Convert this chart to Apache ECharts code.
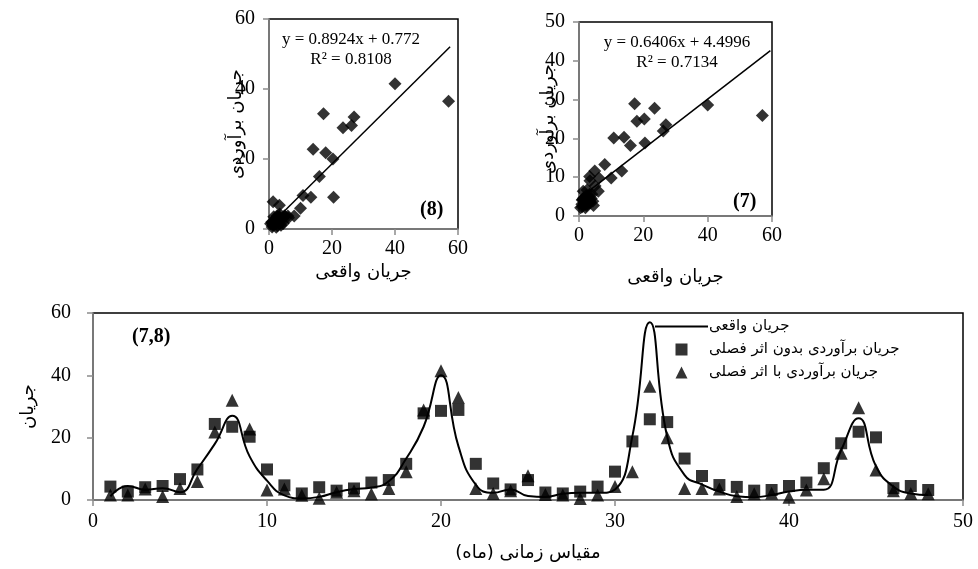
<!DOCTYPE html>
<html>
<head>
<meta charset="utf-8">
<script src="https://cdn.jsdelivr.net/npm/echarts@6/dist/echarts.min.js"></script>
<style>
  html, body { margin: 0; background: #fff; }
  #chart { width: 978px; height: 569px; }
</style>
</head>
<body>
<div id="chart"></div>
<script>
// monthly flow, 48 months
const months = [1, 2, 3, 4, 5, 6, 7, 8, 9, 10, 11, 12, 13, 14, 15, 16, 17, 18, 19, 20, 21, 22, 23, 24,
  25, 26, 27, 28, 29, 30, 31, 32, 33, 34, 35, 36, 37, 38, 39, 40, 41, 42, 43, 44, 45, 46, 47, 48];
const actualFlow = [1.2, 4.5, 3.3, 3.8, 2.5, 10, 18, 27, 14, 6.2, 1.5, 0.5, 1, 2.5, 3.5, 4, 6, 13.3, 23.5, 40,
  17.3, 4.9, 2.3, 3.4, 1.3, 1, 2, 2.3, 2.3, 3.4, 20.5, 57, 20.3, 8, 5, 2.7, 1.2, 0.9, 1.6, 2.7, 3.3, 3.3,
  16, 26.2, 10.8, 4.3, 2.1, 1.6];
const noSeasonFlow = [4.3, 2.7, 4.1, 4.5, 6.7, 9.8, 24.4, 23.5, 20.3, 9.8, 4.7, 2.1, 4.1, 3, 3.7, 5.6, 6.4, 11.6,
  27.8, 28.6, 28.9, 11.6, 5.3, 3.4, 6.4, 2.4, 2.1, 2.7, 4.3, 9.1, 18.8, 25.9, 25, 13.3, 7.7, 4.8, 4.2, 3,
  3.2, 4.5, 5.6, 10.2, 18.2, 21.9, 20.1, 3.8, 4.5, 3.2];
const seasonFlow = [1.6, 1.6, 3.5, 1.1, 3.7, 5.9, 21.8, 32, 22.8, 3.2, 3.5, 1.5, 0.6, 2.5, 3, 1.9, 3.7, 9.1,
  28.9, 41.5, 32.9, 3.7, 2.1, 3, 7.8, 1.8, 1.6, 0.5, 1.6, 4.3, 9.1, 36.5, 20, 3.7, 3.7, 3.5, 1.1, 2, 2.2,
  0.9, 3.2, 6.8, 15, 29.6, 9.6, 3, 2.1, 2];

// trend lines: [panel (8), panel (7)]
const fitSlope = [0.8924, 0.6406];
const fitIntercept = [0.772, 4.4996];
const fitFrom = [0.5, 0.5];
const fitTo = [57.5, 59.5];
const fitText = ['y = 0.8924x + 0.772\nR² = 0.8108', 'y = 0.6406x + 4.4996\nR² = 0.7134'];

const xTicks = [0, 10, 20, 30, 40, 50];

const NAME_LINE = 'جریان واقعی';
const NAME_SQ = 'جریان برآوردی بدون اثر فصلی';
const NAME_TRI = 'جریان برآوردی با اثر فصلی';
const FA = '"DejaVu Sans", sans-serif';
const SERIF = '"Liberation Serif", "Times New Roman", serif';

const pairs = (xs, ys) => xs.map((x, i) => [x, ys[i]]);
const fitLine = (k) => [fitFrom[k], fitTo[k]].map(x => [x, fitSlope[k] * x + fitIntercept[k]]);

const grayAxis = { lineStyle: { color: '#8c8c8c', width: 1.5 } };
const tick = { show: true, inside: false, length: 6, lineStyle: { color: '#8c8c8c', width: 1.5 } };
const lbl = (margin) => ({ color: '#000', fontFamily: SERIF, fontSize: 20, margin });

function valueAxis(extra) {
  return Object.assign({
    type: 'value',
    axisLine: Object.assign({ show: true, onZero: false }, grayAxis),
    axisTick: tick,
    splitLine: { show: false },
    nameMoveOverlap: false,
    nameTextStyle: { color: '#000', fontFamily: FA, fontSize: 18 },
  }, extra);
}

const chart = echarts.init(document.getElementById('chart'));
chart.setOption({
  animation: false,
  backgroundColor: '#fff',
  grid: [
    { left: 93, top: 313, width: 870, height: 187, show: true, borderColor: '#000', borderWidth: 1.5 },
    { left: 269, top: 19, width: 189, height: 210, show: true, borderColor: '#000', borderWidth: 1.5 },
    { left: 579, top: 22, width: 193, height: 194, show: true, borderColor: '#000', borderWidth: 1.5 },
  ],
  xAxis: [
    valueAxis({ gridIndex: 0, min: xTicks[0], max: xTicks[xTicks.length - 1], interval: 10, axisLabel: lbl(12),
      name: 'مقیاس زمانی (ماه)\u200F', nameLocation: 'middle', nameGap: 44 }),
    valueAxis({ gridIndex: 1, min: 0, max: 60, interval: 20, axisLabel: lbl(10),
      name: 'جریان واقعی', nameLocation: 'middle', nameGap: 34 }),
    valueAxis({ gridIndex: 2, min: 0, max: 60, interval: 20, axisLabel: lbl(10),
      name: 'جریان واقعی', nameLocation: 'middle', nameGap: 52 }),
  ],
  yAxis: [
    valueAxis({ gridIndex: 0, min: 0, max: 60, interval: 20, axisLabel: lbl(22),
      name: 'جریان', nameLocation: 'middle', nameRotate: 90, nameGap: 56 }),
    valueAxis({ gridIndex: 1, min: 0, max: 60, interval: 20, axisLabel: lbl(14),
      name: 'جریان برآوردی', nameLocation: 'middle', nameRotate: 90, nameGap: 24 }),
    valueAxis({ gridIndex: 2, min: 0, max: 50, interval: 10, axisLabel: lbl(14),
      name: 'جریان برآوردی', nameLocation: 'middle', nameRotate: 90, nameGap: 22 }),
  ],
  legend: {
    orient: 'vertical',
    left: 650,
    top: 314,
    itemWidth: 53,
    itemHeight: 12,
    itemGap: 8,
    textStyle: { color: '#000', fontFamily: FA, fontSize: 15, padding: [0, 0, 0, -4] },
    data: [
      { name: NAME_LINE, icon: 'path://M0,0L53,0L53,2L0,2Z' },
      { name: NAME_SQ, icon: 'path://M0,0L1,0L1,1L0,1Z' },
      { name: NAME_TRI, icon: 'path://M0.5,0L1,1L0,1Z' },
    ],
  },
  graphic: [
    { type: 'text', x: 132, y: 337, style: { text: '(7,8)', fill: '#000', font: 'bold 20px ' + SERIF, textVerticalAlign: 'middle' } },
    { type: 'text', x: 420, y: 210, style: { text: '(8)', fill: '#000', font: 'bold 20px ' + SERIF, textVerticalAlign: 'middle' } },
    { type: 'text', x: 733, y: 202, style: { text: '(7)', fill: '#000', font: 'bold 20px ' + SERIF, textVerticalAlign: 'middle' } },
    { type: 'text', x: 351, y: 50, style: { text: fitText[0], fill: '#000', font: '17px ' + SERIF, lineHeight: 20, textAlign: 'center', textVerticalAlign: 'middle' } },
    { type: 'text', x: 677, y: 53, style: { text: fitText[1], fill: '#000', font: '17px ' + SERIF, lineHeight: 20, textAlign: 'center', textVerticalAlign: 'middle' } },
  ],
  series: [
    { name: NAME_TRI, type: 'scatter', xAxisIndex: 0, yAxisIndex: 0, symbol: 'triangle', symbolSize: 13, z: 2,
      itemStyle: { color: '#000' }, data: pairs(months, seasonFlow) },
    { name: NAME_SQ, type: 'scatter', xAxisIndex: 0, yAxisIndex: 0, symbol: 'rect', symbolSize: 12, z: 3,
      itemStyle: { color: '#000' }, data: pairs(months, noSeasonFlow) },
    { name: NAME_LINE, type: 'line', xAxisIndex: 0, yAxisIndex: 0, smooth: 0.5, symbol: 'none', z: 4,
      lineStyle: { color: '#000', width: 2 }, itemStyle: { color: '#000' }, data: pairs(months, actualFlow) },

    { name: 'p8', type: 'scatter', xAxisIndex: 1, yAxisIndex: 1, symbol: 'diamond', symbolSize: [13, 13],
      itemStyle: { color: '#000' }, data: pairs(actualFlow, seasonFlow) },
    { name: 'p8fit', type: 'line', xAxisIndex: 1, yAxisIndex: 1, symbol: 'none',
      lineStyle: { color: '#000', width: 1.5 }, data: fitLine(0) },
    { name: 'p7', type: 'scatter', xAxisIndex: 2, yAxisIndex: 2, symbol: 'diamond', symbolSize: [13, 13],
      itemStyle: { color: '#000' }, data: pairs(actualFlow, noSeasonFlow) },
    { name: 'p7fit', type: 'line', xAxisIndex: 2, yAxisIndex: 2, symbol: 'none',
      lineStyle: { color: '#000', width: 1.5 }, data: fitLine(1) },
  ],
});
</script>
</body>
</html>
